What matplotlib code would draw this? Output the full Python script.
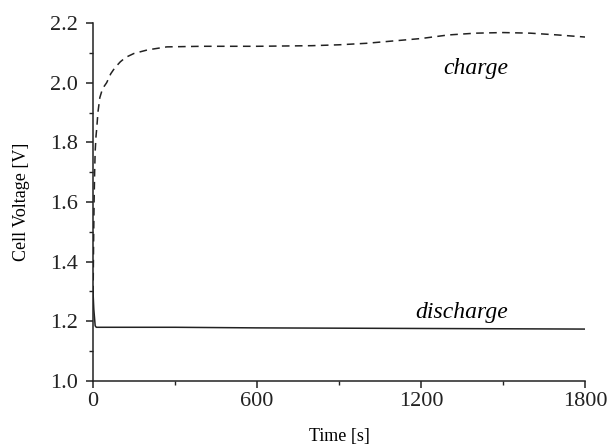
import numpy as np
import matplotlib
matplotlib.use('Agg')
import matplotlib.pyplot as plt
from matplotlib.ticker import MultipleLocator

# charge curve (dashed)
charge_t = [0, 2, 4, 6, 8, 11, 14, 18, 25, 35, 50, 65, 80, 100, 120, 150,
            200, 270, 400, 600, 800, 900, 1000, 1100, 1200, 1300, 1400,
            1500, 1600, 1700, 1800]
charge_v = [1.25, 1.45, 1.60, 1.70, 1.77, 1.82, 1.85, 1.90, 1.95, 1.98, 2.00,
            2.03, 2.05, 2.07, 2.085, 2.098, 2.11, 2.12, 2.122, 2.122, 2.124,
            2.127, 2.132, 2.14, 2.148, 2.160, 2.166, 2.168, 2.166, 2.160, 2.153]

# discharge curve (solid)
discharge_t = [0, 3, 8, 12, 300, 600, 900, 1200, 1500, 1800]
discharge_v = [1.30, 1.24, 1.185, 1.18, 1.18, 1.178, 1.177, 1.176, 1.175, 1.174]

x_ticks = [0, 600, 1200, 1800]
y_ticks = [1.0, 1.2, 1.4, 1.6, 1.8, 2.0, 2.2]

plt.rcParams['font.family'] = ['Liberation Serif', 'DejaVu Serif']

fig = plt.figure(figsize=(6.09, 4.47), dpi=100)
ax = fig.add_axes([0.1527, 0.1477, 0.8079, 0.8008])

ax.plot(charge_t, charge_v, color='#222222', lw=1.1, dashes=(5, 3.5))
ax.plot(discharge_t, discharge_v, color='#222222', lw=1.1)

ax.set_xlim(0, 1800)
ax.set_ylim(1.0, 2.2)
ax.set_xticks(x_ticks)
ax.set_yticks(y_ticks)
ax.set_yticklabels([f'{v:.1f}' for v in y_ticks])
ax.xaxis.set_minor_locator(MultipleLocator(300))
ax.yaxis.set_minor_locator(MultipleLocator(0.1))

for side in ['top', 'right']:
    ax.spines[side].set_visible(False)
for side in ['left', 'bottom']:
    ax.spines[side].set_linewidth(1.1)
    ax.spines[side].set_color('#222222')

ax.tick_params(which='major', direction='out', length=5, width=1.1,
               colors='#222222', labelsize=16, pad=3)
ax.tick_params(axis='y', which='major', pad=6)
ax.tick_params(which='minor', direction='out', length=3, width=1.0,
               colors='#222222')

ax.set_xlabel('Time [s]', fontsize=13, labelpad=12)
ax.set_ylabel('Cell Voltage [V]', fontsize=13, labelpad=14)

ax.text(1400, 2.049, 'charge', fontsize=17, style='italic',
        ha='center', va='center')
ax.text(1350, 1.231, 'discharge', fontsize=17, style='italic',
        ha='center', va='center')

fig.savefig('out.png', dpi=100)
